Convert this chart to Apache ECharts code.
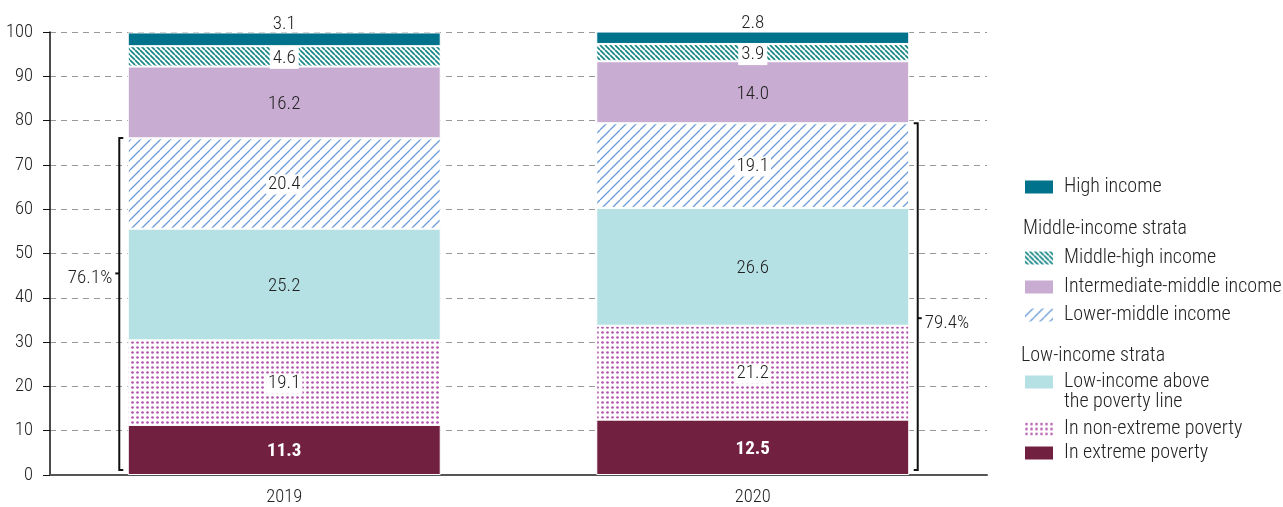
<!DOCTYPE html>
<html>
<head>
<meta charset="utf-8">
<script src="https://cdn.jsdelivr.net/npm/echarts@6/dist/echarts.min.js"></script>
<style>
html,body{margin:0;padding:0;background:#fff;}
#chart{width:1283px;height:507px;}
</style>
</head>
<body>
<div id="chart"></div>
<script>
// ---- data ----
const categories = ['2019', '2020'];
const seriesNames = [
  'In extreme poverty',
  'In non-extreme poverty',
  'Low-income above the poverty line',
  'Lower-middle income',
  'Intermediate-middle income',
  'Middle-high income',
  'High income'
];
const extremePoverty = [11.3, 12.5];
const nonExtremePoverty = [19.1, 21.2];
const lowIncomeAbove = [25.2, 26.6];
const lowerMiddle = [20.4, 19.1];
const intermediateMiddle = [16.2, 14.0];
const middleHigh = [4.6, 3.9];
const highIncome = [3.1, 2.8];
const yTicks = [0, 10, 20, 30, 40, 50, 60, 70, 80, 90, 100];
const bracketTotals = [76.1, 79.4];
const bracketLabels = ['76.1%', '79.4%'];
const bracketLabelAt = [45.5, 35.4];
const groupTitles = ['Middle-income strata', 'Low-income strata'];

// ---- styles ----
const FONT = "'Roboto Condensed', 'Liberation Sans Narrow', 'Arial Narrow', 'DejaVu Sans Condensed', sans-serif";
const TXT = '#222';
const FS = 19;
const FS_LEG = 20;
const FS_TICK = 18.5;
const FW = 300;

function hatch(color, size, dir, lw) {
  const c = document.createElement('canvas');
  c.width = size; c.height = size;
  const g = c.getContext('2d');
  g.fillStyle = '#fff'; g.fillRect(0, 0, size, size);
  g.strokeStyle = color; g.lineWidth = lw;
  g.beginPath();
  for (const k of [-size, 0, size]) {
    if (dir === '/') { g.moveTo(k, size); g.lineTo(k + size, 0); }
    else { g.moveTo(k, 0); g.lineTo(k + size, size); }
  }
  g.stroke();
  return { image: c, repeat: 'repeat' };
}
function dots(color, size, r) {
  const c = document.createElement('canvas');
  c.width = size; c.height = size;
  const g = c.getContext('2d');
  g.fillStyle = '#fff'; g.fillRect(0, 0, size, size);
  g.fillStyle = color;
  g.beginPath(); g.arc(size / 2, size / 2, r, 0, Math.PI * 2); g.fill();
  return { image: c, repeat: 'repeat' };
}

const fills = [
  '#722040',
  dots('#b257ad', 5, 1.35),
  '#b5e1e5',
  hatch('#6a9bd8', 10, '/', 1.3),
  '#c8acd2',
  hatch('#1a8787', 5, '\\', 1.7),
  '#00728c'
];
const values = [extremePoverty, nonExtremePoverty, lowIncomeAbove, lowerMiddle, intermediateMiddle, middleHigh, highIncome];
const labelStyles = [
  { color: '#fff', fontWeight: 'bold', position: 'inside', offset: [0, 1.5] },
  { backgroundColor: '#fff', position: 'inside', padding: [1, 2, 0, 2], offset: [0, 1] },
  { position: 'inside', offset: [0, 1.5] },
  { backgroundColor: '#fff', position: 'inside', padding: [1, 2, 0, 2], offset: [0, 1] },
  { position: 'inside', offset: [0, 2] },
  { backgroundColor: '#fff', position: 'inside', padding: [2, 3, 1, 3], offset: [0, 1.5] },
  { position: 'top', distance: -1 }
];

const barSeries = seriesNames.map((name, i) => ({
  name: name,
  type: 'bar',
  stack: 'total',
  barWidth: '66.8%',
  data: values[i],
  itemStyle: { color: fills[i], borderColor: '#fff', borderWidth: 1 },
  emphasis: { disabled: true },
  label: Object.assign({
    show: true,
    fontFamily: FONT,
    fontSize: FS,
    fontWeight: FW,
    color: TXT,
    formatter: p => p.value.toFixed(1)
  }, labelStyles[i])
}));

const bracketSeries = {
  type: 'custom',
  silent: true,
  z: 5,
  data: categories.map((c, i) => [i, bracketTotals[i], bracketLabelAt[i], i === 0 ? -1 : 1]),
  renderItem: function (params, api) {
    const idx = api.value(0);
    const side = api.value(3);
    const top = api.coord([idx, api.value(1)]);
    const bot = api.coord([idx, 0]);
    const mid = api.coord([idx, api.value(2)]);
    const bandW = api.size([1, 0])[0];
    const half = bandW * 0.668 / 2;
    const x = top[0] + side * (half + 8.5);
    const hook = -side * 4;
    const yb = bot[1] - 5;
    return {
      type: 'group',
      children: [
        {
          type: 'polyline',
          shape: { points: [[x + hook, top[1]], [x, top[1]], [x, yb], [x + hook, yb]] },
          style: { stroke: '#111', lineWidth: 2, fill: null }
        },
        {
          type: 'line',
          shape: { x1: x, y1: mid[1], x2: x + side * 4, y2: mid[1] },
          style: { stroke: '#111', lineWidth: 2 }
        },
        {
          type: 'text',
          x: x + side * 7,
          y: mid[1] + 5,
          style: {
            text: bracketLabels[idx],
            fontFamily: FONT, fontSize: FS, fontWeight: FW, fill: TXT,
            align: side < 0 ? 'right' : 'left',
            verticalAlign: 'middle'
          }
        }
      ]
    };
  }
};

// legend layout: one legend per item
const legendOrder = [6, 5, 4, 3, 2, 1, 0];
const legendCenters = [185, 256, 285, 313, 382, 427, 451];
const legends = legendOrder.map((si, k) => {
  const twoLine = si === 2;
  return {
    data: [seriesNames[si]],
    left: 1023,
    top: legendCenters[k] - (twoLine ? 10 : 8),
    padding: 0,
    orient: 'vertical',
    itemWidth: 30,
    itemHeight: twoLine ? 35 : 15,
    icon: twoLine ? 'path://M0,0H30V15H0Z M0,35H0.1V34.9Z' : 'rect',
    itemGap: 10,
    selectedMode: false,
    formatter: twoLine ? () => 'Low-income above\nthe poverty line' : undefined,
    textStyle: { fontFamily: FONT, fontSize: FS_LEG, fontWeight: FW, color: TXT, lineHeight: 20, padding: [0, 0, 0, 5] }
  };
});

const chart = echarts.init(document.getElementById('chart'), null, { renderer: 'canvas' });
chart.setOption({
  animation: false,
  backgroundColor: '#fff',
  grid: { left: 50, right: 296, top: 32, bottom: 32, containLabel: false, outerBoundsMode: 'none' },
  legend: legends,
  xAxis: {
    type: 'category',
    data: categories,
    axisLine: { lineStyle: { color: '#555', width: 2 } },
    axisTick: { length: 15, lineStyle: { color: '#333', width: 1 } },
    axisLabel: { fontFamily: FONT, fontSize: FS_TICK, fontWeight: FW, color: TXT, margin: 13 }
  },
  yAxis: {
    type: 'value',
    min: yTicks[0],
    max: yTicks[yTicks.length - 1],
    interval: yTicks[1] - yTicks[0],
    axisLine: { show: true, lineStyle: { color: '#111', width: 1.5 } },
    axisTick: { show: true, length: 7, lineStyle: { color: '#111' } },
    axisLabel: { fontFamily: FONT, fontSize: FS_TICK, fontWeight: FW, color: TXT, margin: 17, padding: [3, 0, 0, 0] },
    splitLine: { lineStyle: { color: '#999', type: [6, 5], width: 1 } }
  },
  graphic: [
    { type: 'text', left: 1023, top: 219, style: { text: groupTitles[0], fontFamily: FONT, fontSize: FS_LEG, fontWeight: FW, fill: TXT } },
    { type: 'text', left: 1021, top: 346, style: { text: groupTitles[1], fontFamily: FONT, fontSize: FS_LEG, fontWeight: FW, fill: TXT } }
  ],
  series: barSeries.concat([bracketSeries])
});
</script>
</body>
</html>
